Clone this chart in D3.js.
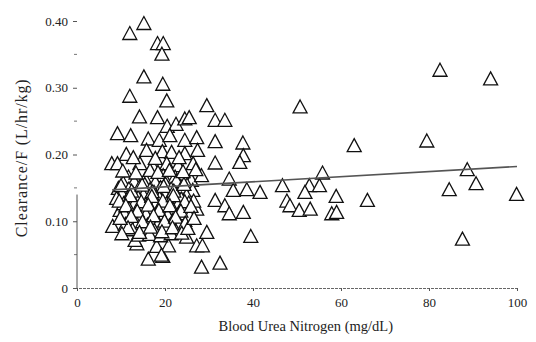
<!DOCTYPE html>
<html>
<head>
<meta charset="utf-8">
<script src="https://cdn.jsdelivr.net/npm/d3@7"></script>
<style>
	body { margin: 0; background: #fff; }
	svg text { font-family: "Liberation Serif", "Times New Roman", "DejaVu Serif", serif; fill: #222; }
</style>
</head>
<body>
<div id="chart"></div>
<script>
// BUN (mg/dL) for each patient
var bun = [
	15.2, 12.0, 18.3, 19.6, 19.3, 15.2, 19.5, 12.0, 20.4, 29.5, 50.7, 82.5, 94.0,
	14.2, 18.3, 20.5, 22.5, 24.5, 25.5, 31.4, 33.6,
	9.2, 12.2, 16.2, 18.7, 21.1, 24.5, 27.2, 31.4, 37.7, 63.0, 79.5,
	11.2, 15.8, 19.4, 21.5, 24.5, 27.4, 37.8, 37.0,
	7.9, 9.2, 14.3, 17.3, 20.4, 23.0, 26.4, 31.4,
	11.7, 15.5, 19.6, 22.3, 26.0, 28.3, 34.6, 55.8, 88.7,
	35.5, 38.6, 41.6, 46.7, 52.8, 55.1, 51.8, 47.7, 48.4, 50.5, 53.0, 58.9, 57.9, 59.0, 66.0, 37.8, 39.5, 90.7, 84.6, 99.9, 87.6,
	31.4, 33.6, 34.6, 29.5, 27.2, 28.5, 28.3, 32.5,
	8.1, 16.2, 19.5, 13.6, 18.1, 20.8, 24.5, 24.9, 27.2, 25.3, 23.4, 9.8, 13.2, 19.2,
	// dense cluster
	10.5, 13.0, 15.4, 17.8, 20.1, 22.6, 25.0,
	9.4, 11.8, 14.2, 16.6, 19.0, 21.4, 23.8, 26.3,
	10.2, 12.7, 15.1, 17.5, 20.0, 22.4, 24.9,
	9.0, 11.4, 13.9, 16.3, 18.8, 21.2, 23.7, 26.5,
	10.6, 13.1, 15.6, 18.0, 20.4, 22.9, 25.4,
	11.8, 14.3, 16.8, 19.2, 21.7, 24.1,
	10.8, 13.3, 15.7, 18.2, 20.6, 23.1, 25.6,
	12.0, 14.5, 16.9, 19.4, 21.8,
	11.0, 13.6, 16.0, 18.5, 21.0, 23.3,
	12.6, 15.1, 17.6, 20.1, 22.5,
	14.0, 16.5, 19.0, 21.4,
	10.0, 12.4, 14.8, 17.1, 19.7, 22.0, 24.3,
	9.6, 12.1, 14.6, 17.0, 19.5, 21.9, 24.5,
	11.1, 13.7, 16.2, 18.6, 21.1, 23.6, 25.9,
	12.3, 14.9, 17.4, 19.9, 22.4, 24.6,
	11.6, 14.2, 16.7, 19.3, 21.7, 23.8,
	10.4, 13.4, 16.6, 18.4, 21.0, 24.1, 27.0,
	12.8, 17.8, 23.2,
	9.8, 10.2, 25.2, 26.6
];
// Clearance/F (L/hr/kg), same order as bun
var clearance = [
	0.397, 0.382, 0.367, 0.367, 0.351, 0.317, 0.306, 0.288, 0.281, 0.274, 0.272, 0.327, 0.314,
	0.257, 0.256, 0.243, 0.246, 0.254, 0.256, 0.252, 0.252,
	0.232, 0.229, 0.224, 0.222, 0.229, 0.222, 0.226, 0.220, 0.218, 0.214, 0.221,
	0.201, 0.207, 0.205, 0.204, 0.202, 0.207, 0.199, 0.189,
	0.187, 0.187, 0.187, 0.182, 0.187, 0.184, 0.187, 0.188,
	0.167, 0.164, 0.169, 0.167, 0.162, 0.169, 0.164, 0.173, 0.178,
	0.147, 0.148, 0.144, 0.154, 0.154, 0.154, 0.144, 0.131, 0.124, 0.117, 0.119, 0.138, 0.112, 0.114, 0.132, 0.114, 0.078, 0.157, 0.148, 0.141, 0.074,
	0.132, 0.124, 0.112, 0.084, 0.064, 0.064, 0.032, 0.038,
	0.093, 0.044, 0.048, 0.067, 0.063, 0.064, 0.102, 0.077, 0.119, 0.129, 0.132, 0.117, 0.072, 0.050,
	// dense cluster
	0.158, 0.160, 0.156, 0.159, 0.157, 0.161, 0.155,
	0.150, 0.149, 0.152, 0.148, 0.151, 0.149, 0.152, 0.147,
	0.142, 0.143, 0.140, 0.144, 0.141, 0.143, 0.139,
	0.135, 0.134, 0.136, 0.133, 0.135, 0.137, 0.134, 0.131,
	0.127, 0.128, 0.126, 0.129, 0.127, 0.125, 0.128,
	0.120, 0.121, 0.119, 0.122, 0.120, 0.118,
	0.112, 0.113, 0.111, 0.114, 0.110, 0.112, 0.109,
	0.104, 0.105, 0.103, 0.106, 0.102,
	0.096, 0.097, 0.095, 0.098, 0.094, 0.097,
	0.088, 0.089, 0.087, 0.090, 0.086,
	0.080, 0.081, 0.079, 0.082,
	0.154, 0.146, 0.155, 0.145, 0.153, 0.146, 0.156,
	0.131, 0.139, 0.130, 0.138, 0.131, 0.139, 0.130,
	0.124, 0.116, 0.125, 0.117, 0.124, 0.116, 0.123,
	0.108, 0.100, 0.109, 0.101, 0.107, 0.098,
	0.091, 0.084, 0.092, 0.085, 0.091, 0.083,
	0.176, 0.173, 0.177, 0.174, 0.177, 0.175, 0.178,
	0.196, 0.195, 0.196,
	0.105, 0.082, 0.090, 0.105
];
var fitX = [8, 100];
var fitY = [0.147, 0.182];

var xTicks = [0, 20, 40, 60, 80, 100];
var yTicks = [0, 0.1, 0.2, 0.3, 0.4];
var yMinorTicks = [0.05, 0.15, 0.25, 0.35];

var width = 536, height = 342;
var margin = { top: 21, right: 19, bottom: 54, left: 77 };

var x = d3.scaleLinear().domain([0, 100]).range([margin.left, width - margin.right]);
var y = d3.scaleLinear().domain([0, 0.4]).range([height - margin.bottom, margin.top]);

var svg = d3.select("#chart").append("svg")
	.attr("width", width)
	.attr("height", height);

// x axis
var xAxis = svg.append("g")
	.attr("transform", "translate(0," + y(0) + ")")
	.call(d3.axisBottom(x).tickValues(xTicks).tickSize(3).tickPadding(7).tickFormat(d3.format("d")));
xAxis.select(".domain").attr("stroke", "#666").attr("stroke-dasharray", "3,1");
xAxis.selectAll(".tick line").attr("stroke", "#555");
xAxis.selectAll("text").style("font-size", "13px");

// y axis
var yAxis = svg.append("g")
	.attr("transform", "translate(" + x(0) + ",0)")
	.call(d3.axisLeft(y).tickValues(yTicks).tickSize(4).tickPadding(5)
		.tickFormat(function (d) { return d === 0 ? "0" : d3.format(".2f")(d); }));
yAxis.select(".domain").remove();
yAxis.selectAll(".tick line").attr("stroke", "#555");
yAxis.selectAll("text").style("font-size", "13px");

svg.append("g").selectAll("line")
	.data(yMinorTicks)
	.enter().append("line")
	.attr("x1", x(0) - 3).attr("x2", x(0))
	.attr("y1", function (d) { return y(d); })
	.attr("y2", function (d) { return y(d); })
	.attr("stroke", "#777");

// the scan only shows the lower part of the y axis line
svg.append("line")
	.attr("x1", x(0)).attr("x2", x(0))
	.attr("y1", y(0)).attr("y2", y(0.14))
	.attr("stroke", "#555");

// axis titles
svg.append("text")
	.attr("x", x(52))
	.attr("y", 331)
	.attr("text-anchor", "middle")
	.style("font-size", "14.5px")
	.text("Blood Urea Nitrogen (mg/dL)");

svg.append("text")
	.attr("transform", "translate(27," + y(0.195) + ") rotate(-90)")
	.attr("text-anchor", "middle")
	.style("font-size", "16px")
	.style("letter-spacing", "0.9px")
	.text("Clearance/F (L/hr/kg)");

// triangles
var tri = "M0,-6.5L7,6.5L-7,6.5Z";
svg.append("g").selectAll("path")
	.data(d3.range(bun.length))
	.enter().append("path")
	.attr("d", tri)
	.attr("transform", function (i) { return "translate(" + x(bun[i]) + "," + y(clearance[i]) + ")"; })
	.attr("fill", "#fff")
	.attr("stroke", "#111")
	.attr("stroke-width", 1.3);

// regression line drawn over the points
svg.append("path")
	.datum(d3.range(fitX.length))
	.attr("d", d3.line()
		.x(function (i) { return x(fitX[i]); })
		.y(function (i) { return y(fitY[i]); }))
	.attr("fill", "none")
	.attr("stroke", "#555")
	.attr("stroke-width", 1.6);
</script>
</body>
</html>
